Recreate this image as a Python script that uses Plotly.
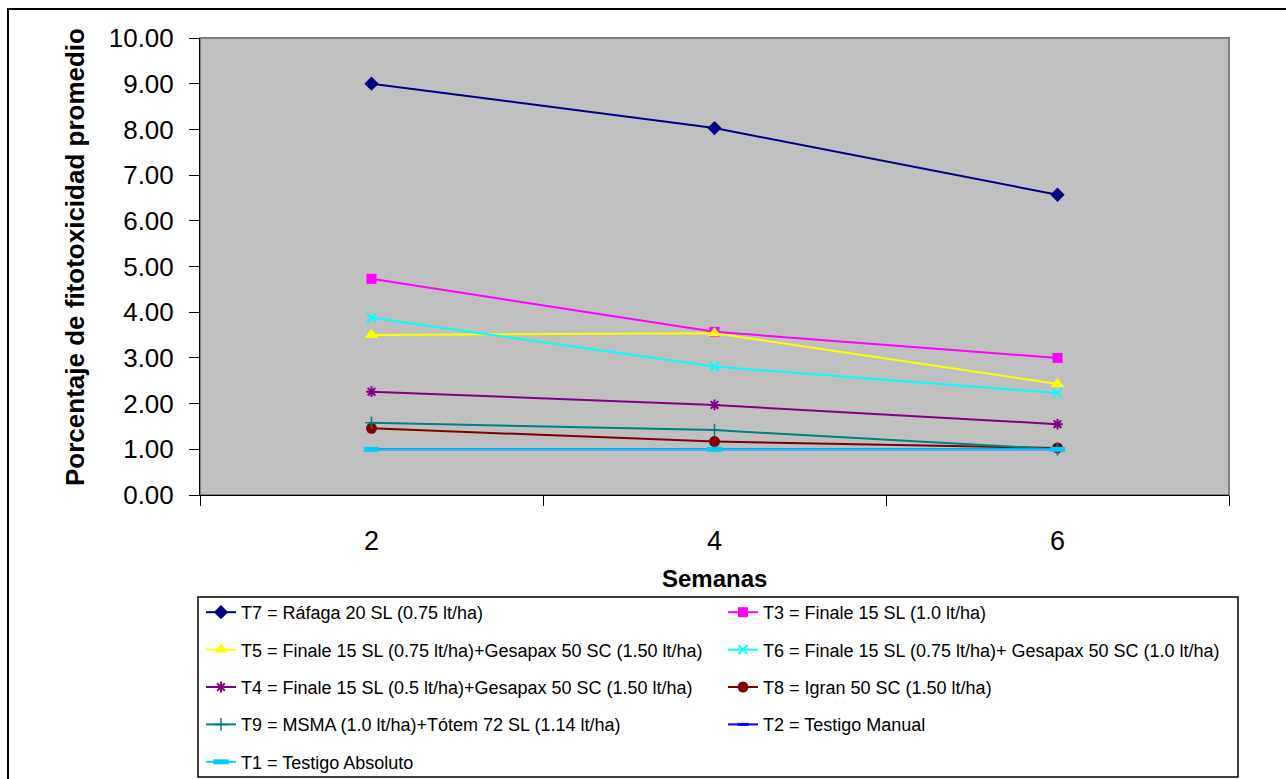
import plotly.graph_objects as go

weeks = ["2", "4", "6"]
y_ticks = [0, 1, 2, 3, 4, 5, 6, 7, 8, 9, 10]

names = [
    "T7 = Ráfaga 20 SL (0.75 lt/ha)",
    "T3 = Finale 15 SL (1.0 lt/ha)",
    "T5 = Finale 15 SL (0.75 lt/ha)+Gesapax 50 SC (1.50 lt/ha)",
    "T6 = Finale 15 SL (0.75 lt/ha)+ Gesapax 50 SC (1.0 lt/ha)",
    "T4 = Finale 15 SL (0.5 lt/ha)+Gesapax 50 SC (1.50 lt/ha)",
    "T8 = Igran 50 SC (1.50 lt/ha)",
    "T9 = MSMA (1.0 lt/ha)+Tótem 72 SL (1.14 lt/ha)",
    "T2 = Testigo Manual",
    "T1 = Testigo Absoluto",
]
t7 = [9.00, 8.03, 6.57]
t3 = [4.73, 3.57, 3.00]
t5 = [3.50, 3.54, 2.43]
t6 = [3.88, 2.81, 2.23]
t4 = [2.26, 1.97, 1.55]
t8 = [1.46, 1.17, 1.03]
t9 = [1.58, 1.42, 1.00]
t2 = [1.00, 1.00, 1.00]
t1 = [1.00, 1.00, 1.00]
series = [t7, t3, t5, t6, t4, t8, t9, t2, t1]

colors = ["#000080", "#FF00FF", "#FFFF00", "#00FFFF", "#800080",
          "#800000", "#008080", "#0000FF", "#00CCFF"]
symbols = ["diamond", "square", "triangle-up", "x-thin", "asterisk",
           "circle", "cross-thin", "line-ew", "line-ew"]
sizes = [11, 10, 12, 9, 9, 11, 9, 8, 11]
mline = [0, 0, 0, 2, 2, 0, 1.5, 3, 5]
legend_of = ["legend", "legend2", "legend", "legend2", "legend",
             "legend2", "legend", "legend2", "legend"]

FONT = "Liberation Sans, Arial, sans-serif"
W, H = 1286, 779
L, R, T, B = 200, 1229, 38, 495


def px(x):
    return (x - L) / (R - L)


def py(y):
    return (B - y) / (B - T)


fig = go.Figure()
for i, (nm, vals) in enumerate(zip(names, series)):
    fig.add_trace(go.Scatter(
        x=weeks, y=vals, name=nm, mode="lines+markers",
        line=dict(color=colors[i], width=2),
        marker=dict(symbol=symbols[i], size=sizes[i], color=colors[i],
                    line=dict(color=colors[i], width=mline[i])),
        legend=legend_of[i], legendgroup=nm,
    ))

legend_common = dict(
    font=dict(family=FONT, size=18, color="black"),
    bgcolor="rgba(0,0,0,0)", borderwidth=0,
    orientation="v", tracegroupgap=11,
    xanchor="left", yanchor="top", traceorder="grouped",
)

fig.update_layout(
    width=W, height=H,
    margin=dict(l=L, r=W - R, t=T, b=H - B, autoexpand=False),
    paper_bgcolor="white", plot_bgcolor="#C0C0C0",
    font=dict(family=FONT, color="black"),
    showlegend=True,
    legend=dict(x=px(201), y=py(594), **legend_common),
    legend2=dict(x=px(723), y=py(594), **legend_common),
    xaxis=dict(
        type="category", categoryorder="array", categoryarray=weeks,
        range=[-0.5, 2.5], tickson="boundaries", ticks="outside",
        ticklen=10, tickcolor="black", tickwidth=1,
        showline=True, linecolor="black", linewidth=1,
        showgrid=False, zeroline=False,
        tickfont=dict(family=FONT, size=27, color="black"),
        ticklabelstandoff=22,
    ),
    yaxis=dict(
        range=[0, 10], tickvals=y_ticks, tickformat=".2f",
        ticks="outside", ticklen=10, tickcolor="black", tickwidth=1,
        showline=True, linecolor="black", linewidth=1,
        showgrid=False, zeroline=False,
        tickfont=dict(family=FONT, size=26, color="black"),
        ticklabelstandoff=10,
    ),
    annotations=[
        dict(text="<b>Porcentaje de fitotoxicidad promedio</b>",
             xref="paper", yref="paper", x=px(75), y=py(257),
             textangle=-90, showarrow=False,
             font=dict(family=FONT, size=26, color="black"),
             xanchor="center", yanchor="middle"),
        dict(text="<b>Semanas</b>", xref="paper", yref="paper",
             x=px(714), y=py(578), showarrow=False,
             font=dict(family=FONT, size=24, color="black"),
             xanchor="center", yanchor="middle"),
    ],
    shapes=[
        dict(type="rect", xref="paper", yref="paper",
             x0=0, x1=1, y0=0, y1=1,
             line=dict(color="#808080", width=2), layer="below"),
        dict(type="rect", xref="paper", yref="paper",
             x0=px(198), x1=px(1238), y0=py(777), y1=py(597),
             line=dict(color="black", width=1.5)),
        dict(type="rect", xref="paper", yref="paper",
             x0=px(8), x1=px(1295), y0=py(790), y1=py(9),
             line=dict(color="black", width=2)),
    ],
)

fig.write_html("out.html")
